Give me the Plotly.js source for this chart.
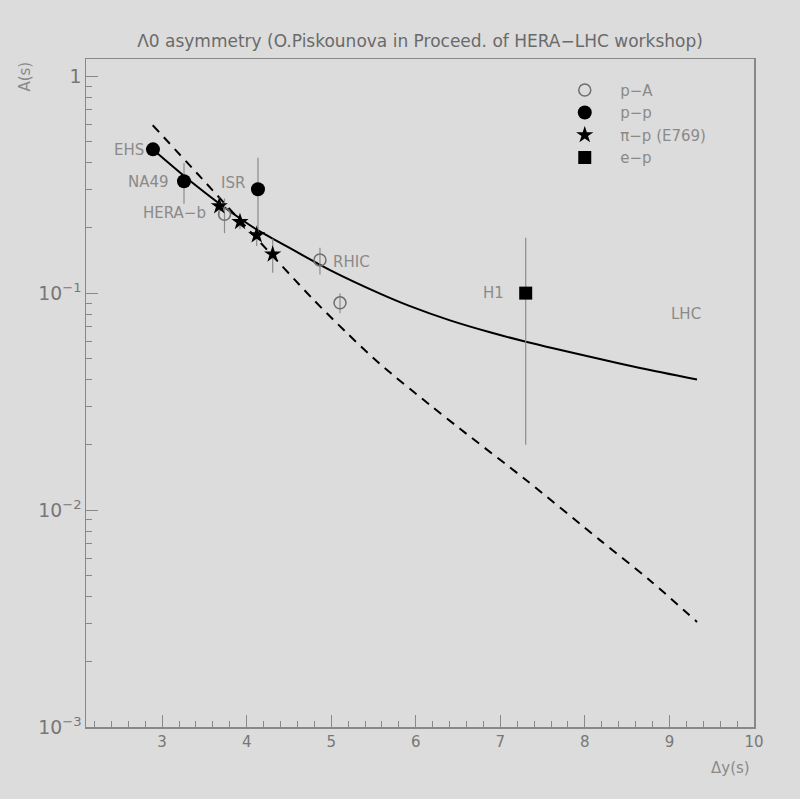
<!DOCTYPE html>
<html>
<head>
<meta charset="utf-8">
<script src="https://cdn.plot.ly/plotly-3.0.1.min.js"></script>
<style>html,body{margin:0;padding:0;background:#dcdcdc;}#chart{width:800px;height:799px;}</style>
</head>
<body>
<div id="chart"></div>
<script>
// ---- data ----
// p-A (open circles)
const pA_x   = [3.738, 4.867, 5.104];
const pA_y   = [0.231, 0.142, 0.0902];
const pA_err = [0.042, 0.020, 0.0095];
const pA_lbl = ["HERA−b", "RHIC", ""];
// p-p (filled circles)
const pp_x   = [2.892, 3.259, 4.134];
const pp_y   = [0.460, 0.328, 0.301];
const pp_err = [0.0, 0.070, 0.120];
const pp_lbl = ["EHS", "NA49", "ISR"];
// pi-p E769 (stars)
const pip_x   = [3.676, 3.921, 4.119, 4.308];
const pip_y   = [0.252, 0.213, 0.185, 0.151];
const pip_err = [0.024, 0.016, 0.020, 0.027];
// e-p (square)
const ep_x   = [7.30];
const ep_y   = [0.100];
const ep_err = [0.080];
const ep_lbl = ["H1"];
// solid model curve
const solid_x = [2.892, 3.271, 3.720, 4.122, 4.394, 4.986, 5.577, 5.932, 6.405, 6.878, 7.303, 8.178, 8.652, 9.326];
const solid_y = [0.459, 0.344, 0.2515, 0.196, 0.1709, 0.1277, 0.0995, 0.0871, 0.0749, 0.0660, 0.0597, 0.0497, 0.0452, 0.0400];
// dashed model curve
const dash_x = [2.889, 3.413, 4.039, 4.784, 5.187, 5.577, 6.168, 6.523, 7.315, 8.178, 8.770, 9.326];
const dash_y = [0.594, 0.357, 0.193, 0.0938, 0.0654, 0.0471, 0.0305, 0.0237, 0.01365, 0.00727, 0.00474, 0.00305];
// series names and other text
const seriesNames = ["p−A", "p−p", "π−p (E769)", "e−p"];
const titleText = "Λ0 asymmetry (O.Piskounova in Proceed. of HERA−LHC workshop)";
const xTitle = "Δy(s)";
const yTitle = "A(s)";
const extraLabel = {text: "LHC", x: 9.2, y: 0.08};

const FONT = "DejaVu Sans, sans-serif";
const GRAY = "#8a8a8a";
const errStyle = {type: "data", visible: true, color: "#8c8c8c", thickness: 1.2, width: 0};

const traces = [
  {x: solid_x, y: solid_y, mode: "lines", line: {color: "#000", width: 2, shape: "spline", smoothing: 0.8}, showlegend: false, hoverinfo: "skip"},
  {x: dash_x, y: dash_y, mode: "lines", line: {color: "#000", width: 2, dash: "9px,7px", shape: "spline", smoothing: 0.8}, showlegend: false, hoverinfo: "skip"},
  {x: pA_x, y: pA_y, name: seriesNames[0], mode: "markers",
   marker: {symbol: "circle-open", size: 12, color: "#6e6e6e", line: {width: 1.5, color: "#6e6e6e"}},
   error_y: Object.assign({array: pA_err}, errStyle)},
  {x: pp_x, y: pp_y, name: seriesNames[1], mode: "markers",
   marker: {symbol: "circle", size: 14, color: "#000"},
   error_y: Object.assign({array: pp_err}, errStyle)},
  {x: pip_x, y: pip_y, name: seriesNames[2], mode: "markers",
   marker: {symbol: "star", size: 13, color: "#000", line: {width: 0}},
   error_y: Object.assign({array: pip_err}, errStyle)},
  {x: ep_x, y: ep_y, name: seriesNames[3], mode: "markers",
   marker: {symbol: "square", size: 13, color: "#000"},
   error_y: Object.assign({array: ep_err}, errStyle)}
];

const annotations = [];
function lbl(text, x, y, side, xs, ys) {
  if (!text) return;
  annotations.push({text: text, x: x, y: Math.log10(y), xref: "x", yref: "y", showarrow: false,
    xanchor: side, yanchor: "middle", xshift: xs, yshift: ys || 0,
    font: {family: FONT, size: 15, color: GRAY}});
}
lbl(pp_lbl[0], pp_x[0], pp_y[0], "right", -7, -1);
lbl(pp_lbl[1], pp_x[1], pp_y[1], "right", -13, -1);
lbl(pp_lbl[2], pp_x[2], pp_y[2], "right", -11, 6);
lbl(pA_lbl[0], pA_x[0], pA_y[0], "right", -17, 1);
lbl(pA_lbl[1], pA_x[1], pA_y[1], "left", 11, -2);
lbl(ep_lbl[0], ep_x[0], ep_y[0], "right", -20, 0);
lbl(extraLabel.text, extraLabel.x, extraLabel.y, "center", 0, 0);
annotations.push({text: xTitle, xref: "paper", yref: "paper", x: 0.965, y: -0.062, xanchor: "center", yanchor: "middle",
  showarrow: false, font: {family: FONT, size: 15, color: GRAY}});
annotations.push({text: yTitle, xref: "paper", yref: "paper", x: -0.091, y: 0.974, xanchor: "center", yanchor: "middle",
  textangle: -90, showarrow: false, font: {family: FONT, size: 15, color: GRAY}});

const layout = {
  width: 800, height: 799,
  paper_bgcolor: "#dcdcdc", plot_bgcolor: "#dcdcdc",
  margin: {l: 86, r: 46, t: 59, b: 72},
  title: {text: titleText, x: 0.5, xref: "paper", y: 0.949, yanchor: "middle",
          font: {family: FONT, size: 17, color: "#6a6a6a"}},
  xaxis: {range: [2.1, 10], dtick: 1, tick0: 0, ticks: "inside", ticklen: 12, tickwidth: 1, tickcolor: "#888",
          showgrid: false, zeroline: false, showline: true, linecolor: "#888", linewidth: 1.5, mirror: true,
          tickfont: {family: FONT, size: 15, color: "#777"},
          minor: {dtick: 0.2, tick0: 0, ticks: "inside", ticklen: 6, tickcolor: "#888", tickwidth: 1, showgrid: false}},
  yaxis: {type: "log", range: [-3, Math.log10(1.2)], dtick: 1, exponentformat: "power",
          ticks: "inside", ticklen: 12, tickwidth: 1, tickcolor: "#888",
          showgrid: false, zeroline: false, showline: true, linecolor: "#888", linewidth: 1.5, mirror: true,
          tickfont: {family: FONT, size: 15, color: "#777"},
          minor: {dtick: "D1", ticks: "inside", ticklen: 6, tickcolor: "#888", tickwidth: 1, showgrid: false}},
  showlegend: true,
  legend: {x: 0.6935, xanchor: "left", y: 0.978, yanchor: "top", bgcolor: "rgba(0,0,0,0)", itemwidth: 61,
           font: {family: FONT, size: 15, color: GRAY}, tracegroupgap: 0},
  annotations: annotations
};

Plotly.newPlot("chart", traces, layout, {staticPlot: true, displayModeBar: false});
</script>
</body>
</html>
